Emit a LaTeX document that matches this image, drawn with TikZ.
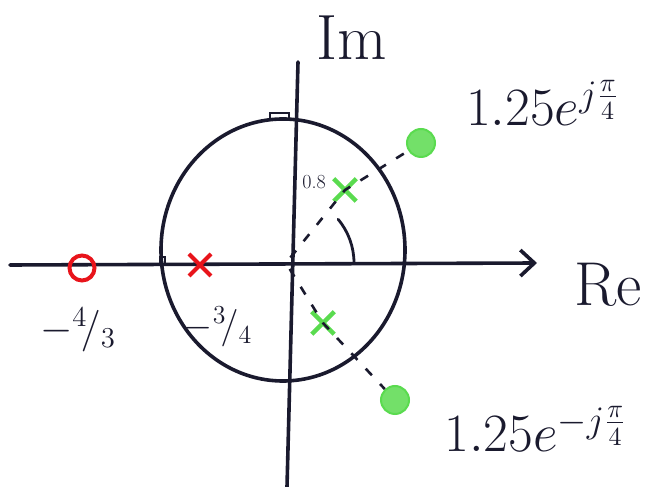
\documentclass[tikz,border=0pt]{standalone}
\usepackage{graphicx}
\usepackage{xcolor}
\definecolor{cInk}{HTML}{1A1A2E}
\definecolor{cRed}{HTML}{E8141B}
\definecolor{cGreen}{HTML}{5ADB4F}
\usepackage{tikz}
\usetikzlibrary{positioning,arrows.meta,shapes.misc}
\tikzset{
  axis-line/.style={line width=3.6pt,draw=cInk,line cap=round},
  unit-circle/.style={line width=3.6pt,draw=cInk},
  node-zero-red/.style={circle,draw=cRed,line width=4pt,minimum size=25pt,inner sep=0pt},
  node-pole-red/.style={cross out,draw=cRed,line width=4pt,minimum size=18pt,inner sep=0pt},
  node-zero-green/.style={circle,draw=cGreen,fill=cGreen!85,line width=2pt,minimum size=28pt,inner sep=0pt},
  node-pole-green/.style={cross out,draw=cGreen,line width=4.5pt,minimum size=18pt,inner sep=0pt},
  guide/.style={line width=2.6pt,draw=cInk,dash pattern=on 9pt off 12pt,dash phase=14pt},
  lbl/.style={text=cInk,inner sep=0pt,font=\fontsize{20}{20}\selectfont},
}

\begin{document}
\begin{tikzpicture}[x=1pt,y=1pt]
  \useasboundingbox (0,0) rectangle (646,487);
  \coordinate (O) at (286,224);
  \coordinate (re-l) at (10,222);
  \coordinate (re-r) at (537,224);
  \coordinate (im-t) at (298,425);
  \coordinate (im-b) at (287,0);
  \draw[unit-circle] (283,237) ellipse [x radius=122,y radius=131];
  \draw[axis-line,-{Straight Barb[length=14pt,width=26pt]}] (re-l) -- (re-r);
  \draw[axis-line] (im-t) -- (im-b);
  \draw[line width=2.4pt,draw=cInk] (270,367) rectangle (289,374);
  \draw[line width=2.4pt,draw=cInk] (160,222) rectangle (165,230);
  % poles and zeros
  \node[node-zero-red] (z1) at (82,219) {};
  \node[node-pole-red] (p1) at (200,222) {};
  \node[node-pole-green] (p2) at (345,297) {};
  \node[node-zero-green] (z2) at (421,344) {};
  \node[node-pole-green] (p3) at (323,164) {};
  \node[node-zero-green] (z3) at (395,87) {};
  \draw[guide] (O) -- (p2.center) -- (z2);
  \draw[guide] (O) -- (p3.center) -- (z3);
  \draw[axis-line,line width=2.8pt] (O) ++(68,0) arc[start angle=0,end angle=40,radius=68];
  % labels
  \node[lbl,font=\fontsize{64}{64}\selectfont] (im) at (352,449) {Im};
  \node[lbl,font=\fontsize{62}{62}\selectfont] (re) at (608,202) {Re};
  \node[lbl] (lz2) at (543,384) {\scalebox{2.6}{$1.25e^{j\frac{\pi}{4}}$}};
  \node[lbl] (lz3) at (536,58) {\scalebox{2.6}{$1.25e^{-j\frac{\pi}{4}}$}};
  \node[lbl] (lz1) at (78,157) {\scalebox{2}{$-{}^{4}\!/_{3}$}};
  \node[lbl] (lp1) at (218,160) {\scalebox{1.8}{$-{}^{3}\!/_{4}$}};
  \node[lbl] (lp2) at (314,305) {0.8};
\end{tikzpicture}
\end{document}
